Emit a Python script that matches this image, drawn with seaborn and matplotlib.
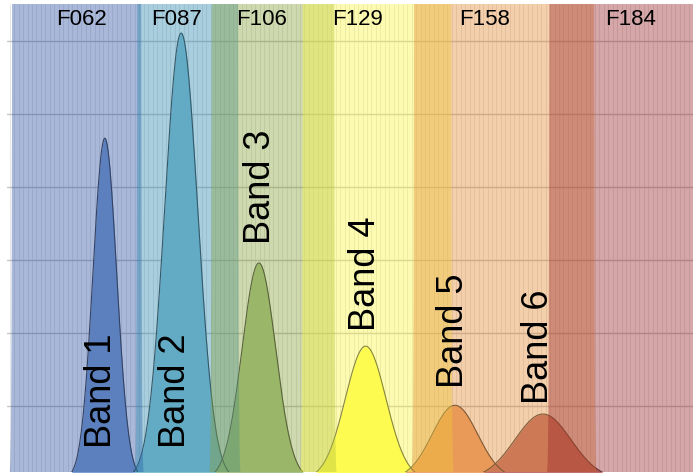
import matplotlib
matplotlib.use('Agg')
import matplotlib.pyplot as plt
import seaborn as sns
import numpy as np
import pandas as pd

# filter bandpasses (microns)
filter_names = ["F062", "F087", "F106", "F129", "F158", "F184"]
filter_lo = [0.48, 0.76, 0.927, 1.131, 1.380, 1.683]
filter_hi = [0.76, 0.977, 1.192, 1.454, 1.774, 2.000]
filter_colors = ["#284ea2", "#2a89af", "#87a039", "#faf73e", "#e38730", "#98252a"]

# bands: centre, width (sigma), peak height
band_names = ["Band 1", "Band 2", "Band 3", "Band 4", "Band 5", "Band 6"]
band_center = [0.683, 0.854, 1.028, 1.267, 1.467, 1.664]
band_sigma = [0.0265, 0.0370, 0.0375, 0.0455, 0.0510, 0.0627]
band_peak = [4.67, 6.11, 2.96, 1.82, 1.01, 0.89]
band_colors = ["#7da2d0", "#89c0d5", "#a7c58a", "#ffff5c", "#eea773", "#c1716e"]

# label placement (layout only)
filter_label_x = [0.630, 0.8435, 1.033, 1.249, 1.534, 1.860]
filter_label_y = 6.30
band_label_xy = [(0.6745, 0.425), (0.8424, 0.425), (1.0305, 3.22),
                 (1.2656, 2.03), (1.4627, 1.25), (1.653, 1.03)]

sns.set_style("white")
plt.rcParams['font.family'] = ['Liberation Sans', 'DejaVu Sans']

fig = plt.figure(figsize=(6.93, 4.76), dpi=100)
ax = fig.add_axes([7 / 693, 4 / 476, 686 / 693, 468 / 476])

wl = np.linspace(0.40, 2.10, 12000)

# band curves -> long table for seaborn
rows = []
for name, c, s, p in zip(band_names, band_center, band_sigma, band_peak):
    xs = np.arange(c - 5 * s, c + 5 * s, 0.002)
    ys = p * np.exp(-0.5 * ((xs - c) / s) ** 2)
    rows.append(pd.DataFrame({"wl": xs, "flux": ys, "band": name}))
df = pd.concat(rows, ignore_index=True)

for name, col in zip(band_names, band_colors):
    sub = df[df["band"] == name]
    ax.fill_between(sub["wl"], 0, sub["flux"], color=col, lw=0, zorder=2)
sns.lineplot(data=df, x="wl", y="flux", units="band", estimator=None,
             color="#3c3c3c", lw=0.8, sort=False, ax=ax, zorder=2.5, legend=False)

# filter overlays (steep-edged transmission, clipped above the axes)
edge = 0.0012
for lo, hi, col in zip(filter_lo, filter_hi, filter_colors):
    t = 300.0 / (1 + np.exp(-(wl - lo) / edge)) / (1 + np.exp(-(hi - wl) / edge))
    ax.fill_between(wl, 0, t, color=col, alpha=0.4, lw=0, zorder=3)

for name, x in zip(filter_names, filter_label_x):
    ax.text(x, filter_label_y, name, fontsize=16, ha="center", va="center",
            color="black", zorder=5)
for name, (x, y) in zip(band_names, band_label_xy):
    ax.text(x, y, name, fontsize=26, rotation=90, ha="center", va="bottom",
            color="black", zorder=5)

ax.set_xlim(0.464, 2.0)
ax.set_ylim(0.096, 6.507)
ax.set_yticks(np.arange(1, 7))
ax.set_xticks(np.arange(0.47, 2.0, 0.01))
ax.grid(True, axis="y", color="#c4c4c4", lw=1.0)
ax.grid(True, axis="x", color="#dcdcdc", lw=0.5)
ax.set_axisbelow(True)
ax.tick_params(length=0, labelbottom=False, labelleft=False)
ax.set_xlabel("")
ax.set_ylabel("")
for sp in ax.spines.values():
    sp.set_visible(False)

fig.savefig("out.png", dpi=100)
